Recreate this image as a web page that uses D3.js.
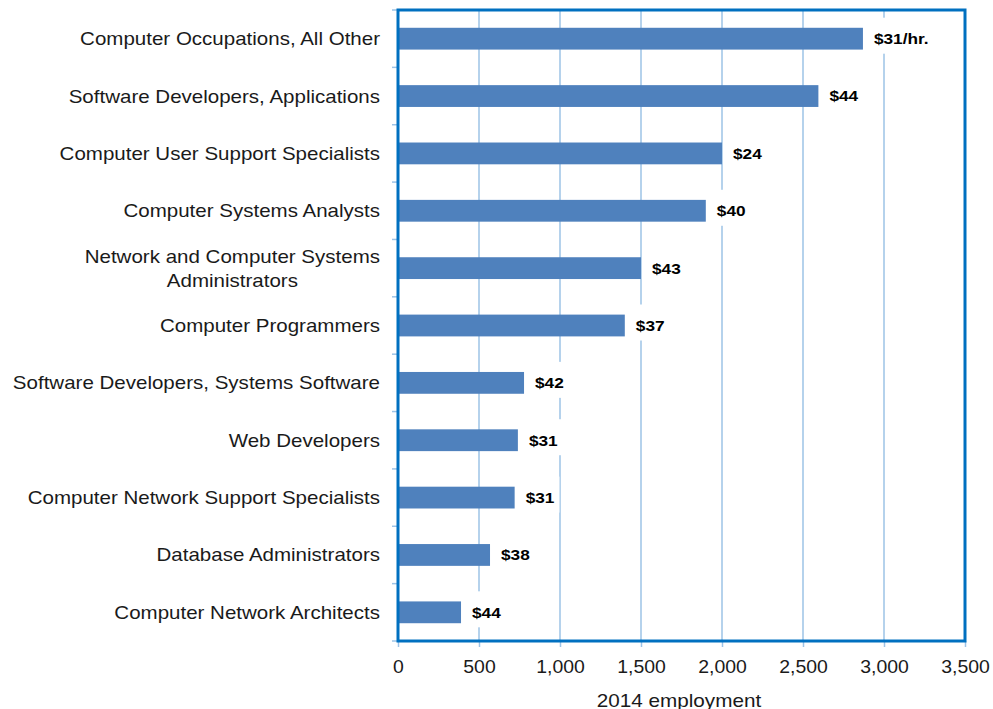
<!DOCTYPE html>
<html>
<head>
<meta charset="utf-8">
<script src="https://cdn.jsdelivr.net/npm/d3@7"></script>
<style>
  body { margin: 0; background: #fff; }
  text { font-family: "Liberation Sans", Arial, sans-serif; }
</style>
</head>
<body>
<svg id="chart" width="993" height="709"></svg>
<script>
// occupations, top to bottom
var occupations = [
    "Computer Occupations, All Other",
    "Software Developers, Applications",
    "Computer User Support Specialists",
    "Computer Systems Analysts",
    "Network and Computer Systems|Administrators",
    "Computer Programmers",
    "Software Developers, Systems Software",
    "Web Developers",
    "Computer Network Support Specialists",
    "Database Administrators",
    "Computer Network Architects"
];
// 2014 employment (thousands)
var employment = [2870, 2595, 2000, 1900, 1500, 1400, 778, 740, 720, 568, 389];
// median hourly wage labels
var wages = ["$31/hr.", "$44", "$24", "$40", "$43", "$37", "$42", "$31", "$31", "$38", "$44"];
var xTicks = [0, 500, 1000, 1500, 2000, 2500, 3000, 3500];

var svg = d3.select('#chart');
var margin = {top: 10, right: 28, bottom: 68, left: 398};
var width = 993, height = 709;
var stretch = 1.14; // the original text is a bit wider than Arial

var xScale = d3.scaleLinear()
    .domain([0, 3500])
    .range([margin.left, width - margin.right]);

var yScale = d3.scaleBand()
    .domain(d3.range(occupations.length))
    .range([margin.top, height - margin.bottom])
    .paddingInner(0.62)
    .paddingOuter(0.31);

var step = yScale.step();

// vertical grid lines
svg.append("g")
    .selectAll("line")
    .data(xTicks.slice(1, -1))
    .enter()
    .append("line")
    .attr("x1", function(d){ return xScale(d); })
    .attr("x2", function(d){ return xScale(d); })
    .attr("y1", margin.top)
    .attr("y2", height - margin.bottom)
    .style("stroke", "#9dc3e6")
    .style("stroke-width", 1.5);

// bars
svg.append("g")
    .selectAll("rect")
    .data(employment)
    .enter()
    .append("rect")
    .attr("x", xScale(0))
    .attr("y", function(d, i){ return yScale(i); })
    .attr("width", function(d){ return xScale(d) - xScale(0); })
    .attr("height", yScale.bandwidth())
    .style("fill", "#4f81bd");

// wage labels, with white boxes that hide the grid behind them
var labels = svg.append("g")
    .selectAll("g")
    .data(wages)
    .enter()
    .append("g")
    .attr("transform", function(d, i){
        return "translate(" + (xScale(employment[i]) + 11) + "," + (yScale(i) + yScale.bandwidth() / 2) + ")";
    });

labels.append("text")
    .attr("dy", "0.36em")
    .attr("transform", "scale(1.15,1)")
    .style("font-size", "15px")
    .style("font-weight", "bold")
    .style("fill", "#000")
    .text(function(d){ return d; })
    .each(function(){
        var w = this.getComputedTextLength() * 1.15;
        d3.select(this.parentNode).insert("rect", "text")
            .attr("x", -5)
            .attr("y", -21)
            .attr("width", w + 10)
            .attr("height", 36)
            .style("fill", "#fff");
    });

// category labels
var catLabels = svg.append("g")
    .selectAll("g")
    .data(occupations)
    .enter()
    .append("g")
    .attr("transform", function(d, i){
        return "translate(380," + (yScale(i) + yScale.bandwidth() / 2) + ") scale(" + stretch + ",1)";
    })
    .append("text")
    .style("font-size", "18px")
    .style("fill", "#1a1a1a");

catLabels.each(function(d){
    var el = d3.select(this);
    var lines = d.split("|");
    if (lines.length == 1) {
        el.attr("x", 0).attr("text-anchor", "end").attr("dy", "0.36em").text(d);
    } else {
        el.attr("text-anchor", "middle");
        var spans = lines.map(function(l, k){
            return el.append("tspan")
                .attr("y", (k - (lines.length - 1) / 2) * 24)
                .attr("dy", "0.36em")
                .text(l);
        });
        var maxW = d3.max(spans, function(s){ return s.node().getComputedTextLength(); });
        spans.forEach(function(s){ s.attr("x", -maxW / 2); });
    }
});

// small ticks on left axis at category boundaries
svg.append("g")
    .selectAll("line")
    .data(d3.range(occupations.length + 1))
    .enter()
    .append("line")
    .attr("x1", margin.left - 6)
    .attr("x2", margin.left)
    .attr("y1", function(i){ return margin.top + i * step; })
    .attr("y2", function(i){ return margin.top + i * step; })
    .style("stroke", "#9dc3e6")
    .style("stroke-width", 1.5);

// x axis
var xAxis = d3.axisBottom(xScale)
    .tickValues(xTicks)
    .tickSize(6)
    .tickPadding(13)
    .tickFormat(d3.format(","));

var gx = svg.append("g")
    .attr("transform", "translate(0," + (height - margin.bottom) + ")")
    .call(xAxis);
gx.select(".domain").remove();
gx.selectAll("line").style("stroke", "#9dc3e6").style("stroke-width", 1.5);
gx.selectAll("text")
    .attr("transform", "scale(1.08,1)")
    .style("font-size", "18px")
    .style("font-family", "'Liberation Sans', Arial, sans-serif")
    .style("fill", "#1a1a1a");

// frame
svg.append("rect")
    .attr("x", margin.left)
    .attr("y", margin.top)
    .attr("width", xScale(3500) - margin.left)
    .attr("height", height - margin.bottom - margin.top)
    .style("fill", "none")
    .style("stroke", "#0070c0")
    .style("stroke-width", 3);

svg.append("g")
    .attr("transform", "translate(679,707) scale(1.15,1)")
    .append("text")
    .attr("text-anchor", "middle")
    .style("font-size", "18px")
    .style("fill", "#1a1a1a")
    .text("2014 employment");
</script>
</body>
</html>
